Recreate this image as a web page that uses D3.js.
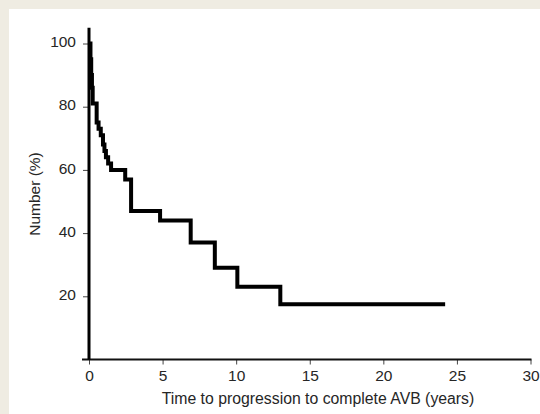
<!DOCTYPE html>
<html>
<head>
<meta charset="utf-8">
<script src="https://cdn.jsdelivr.net/npm/d3@7"></script>
<style>
  html, body { margin: 0; padding: 0; background: #efece2; }
  svg { display: block; }
  text { font-family: "Liberation Sans", Arial, sans-serif; fill: #262626; }
</style>
</head>
<body>
<svg id="chart" width="540" height="414"></svg>
<script>
// Kaplan-Meier style step curve
const stepTimes = [0, 0.1, 0.15, 0.2, 0.25, 0.52, 0.65, 0.8, 0.95, 1.05, 1.15, 1.3, 1.5, 2.46, 2.86, 4.83, 6.91, 8.55, 10.08, 13.0, 24.2];
const stepValues = [100, 95, 90, 86, 81, 75, 73, 71, 68, 66, 64, 62, 60, 57, 47, 44, 37, 29, 23, 17.5, 17.5];
const xTicks = [0, 5, 10, 15, 20, 25, 30];
const yTicks = [20, 40, 60, 80, 100];
const xLabel = "Time to progression to complete AVB (years)";
const yLabel = "Number (%)";

const svg = d3.select("#chart");

// white panel on beige page
svg.append("rect")
  .attr("x", 9).attr("y", 9)
  .attr("width", 540).attr("height", 414)
  .attr("fill", "#ffffff");

const x = d3.scaleLinear().domain([0, 30]).range([89, 530.5]);
const y = d3.scaleLinear().domain([0, 105]).range([359.5, 27.7]);

// x axis
const xAxis = svg.append("g")
  .attr("transform", `translate(0,${y(0)})`)
  .call(d3.axisBottom(x).tickValues(xTicks).tickSize(5).tickSizeOuter(0).tickPadding(5));
xAxis.select(".domain").remove();
xAxis.selectAll(".tick line").attr("stroke", "#444").attr("stroke-width", 1);
xAxis.selectAll(".tick text")
  .attr("font-size", 15.5)
  .style("font-family", "Liberation Sans, Arial, sans-serif")
  .attr("fill", "#262626");

// y axis
const yAxis = svg.append("g")
  .attr("transform", `translate(${x(0)},0)`)
  .call(d3.axisLeft(y).tickValues(yTicks).tickSize(6).tickSizeOuter(0).tickPadding(7));
yAxis.select(".domain").remove();
yAxis.selectAll(".tick line").attr("stroke", "#444").attr("stroke-width", 1);
yAxis.selectAll(".tick text")
  .attr("font-size", 15.5)
  .attr("dy", "0.2em")
  .style("font-family", "Liberation Sans, Arial, sans-serif")
  .attr("fill", "#262626");

// axis lines
svg.append("line")
  .attr("x1", x(0) - 7).attr("x2", x(30) + 1)
  .attr("y1", y(0)).attr("y2", y(0))
  .attr("stroke", "#111").attr("stroke-width", 2.2);
svg.append("line")
  .attr("x1", x(0)).attr("x2", x(0))
  .attr("y1", y(0)).attr("y2", y(105))
  .attr("stroke", "#000").attr("stroke-width", 3);

// step curve
const pts = stepTimes.map((t, i) => [t, stepValues[i]]);
const line = d3.line()
  .x(d => x(d[0]))
  .y(d => y(d[1]))
  .curve(d3.curveStepAfter);
svg.append("path")
  .datum(pts)
  .attr("d", line)
  .attr("fill", "none")
  .attr("stroke", "#000")
  .attr("stroke-width", 4)
  .attr("stroke-linejoin", "miter");

// axis titles
svg.append("text")
  .attr("x", 318).attr("y", 404)
  .attr("text-anchor", "middle")
  .attr("font-size", 15.8)
  .text(xLabel);

svg.append("text")
  .attr("transform", `translate(40,194) rotate(-90)`)
  .attr("text-anchor", "middle")
  .attr("font-size", 15.5)
  .text(yLabel);
</script>
</body>
</html>
